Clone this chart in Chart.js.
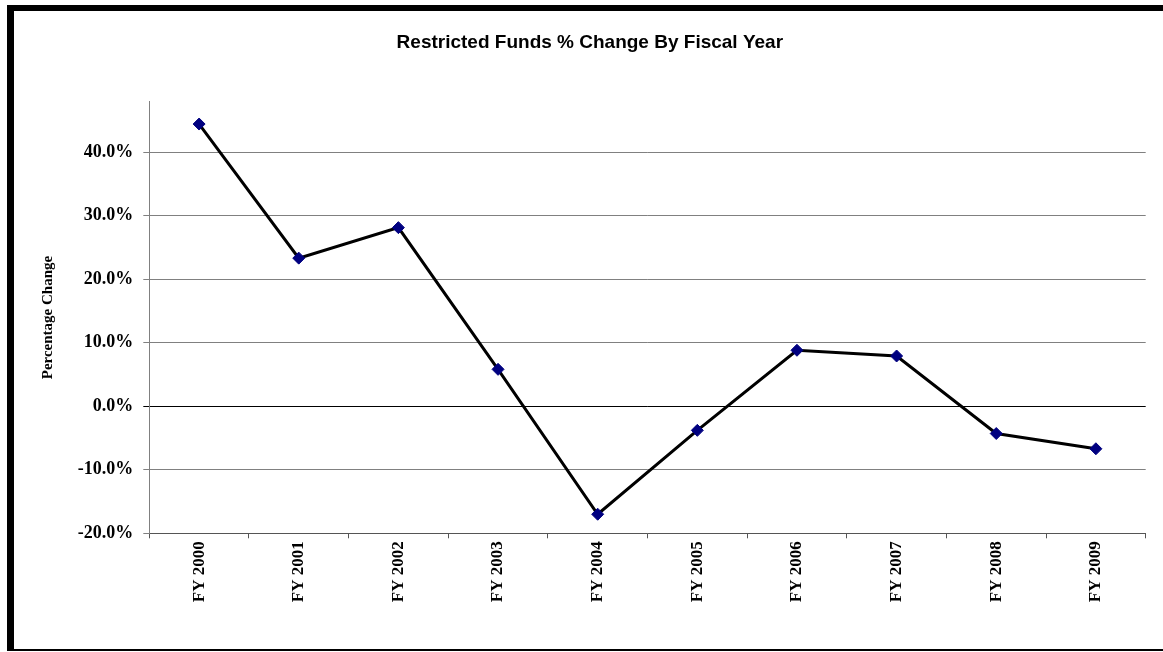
<!DOCTYPE html>
<html>
<head>
<meta charset="utf-8">
<script src="https://cdn.jsdelivr.net/npm/chart.js@4"></script>
<style>
  html, body { margin: 0; padding: 0; background: #fff; overflow: hidden; }
  #wrap { position: relative; width: 1163px; height: 652px; }
  #frame {
    position: absolute; left: 7px; top: 5px; width: 1200px; height: 646px;
    box-sizing: border-box; border-top: 6px solid #000; border-left: 7px solid #000;
    border-bottom: 2px solid #000; pointer-events: none;
  }
</style>
</head>
<body>
<div id="wrap">
  <canvas id="chart" width="1163" height="652"></canvas>
  <div id="frame"></div>
</div>
<script>
// Fiscal years and % change
const years = ['FY 2000', 'FY 2001', 'FY 2002', 'FY 2003', 'FY 2004',
               'FY 2005', 'FY 2006', 'FY 2007', 'FY 2008', 'FY 2009']
const pctChange = [44.4, 23.3, 28.1, 5.8, -17.0, -3.8, 8.8, 7.9, -4.3, -6.7]
const yTicks = [-20, -10, 0, 10, 20, 30, 40]

const serif = 'Liberation Serif, Times New Roman, serif'

new Chart(document.getElementById('chart'), {
  type: 'line',
  data: {
    labels: years,
    datasets: [{
      label: 'Restricted Funds',
      data: pctChange,
      borderColor: '#000',
      borderWidth: 3,
      tension: 0,
      pointStyle: 'rectRot',
      pointRadius: 6,
      pointBackgroundColor: '#000080',
      pointBorderColor: '#000080',
      pointBorderWidth: 1
    }]
  },
  options: {
    responsive: false,
    animation: false,
    layout: { padding: { left: 34, right: 17.3, top: 0, bottom: 0 } },
    plugins: {
      legend: { display: false },
      tooltip: { enabled: false },
      title: {
        display: true,
        text: 'Restricted Funds % Change By Fiscal Year',
        color: '#000',
        font: { family: 'Liberation Sans, Arial, sans-serif', size: 19, weight: 'bold' },
        padding: { top: 31, bottom: 48 }
      }
    },
    scales: {
      x: {
        offset: true,
        grid: { display: true, offset: true, drawOnChartArea: false, drawTicks: true, tickLength: 5, color: '#555' },
        border: { color: '#555', width: 1 },
        ticks: {
          autoSkip: false, maxRotation: 90, minRotation: 90, padding: 3,
          color: '#000', font: { family: serif, size: 17, weight: 'bold' }
        },
        afterFit: (scale) => { scale.height = 118.7 }
      },
      y: {
        min: -20,
        max: 47.9,
        afterBuildTicks: (scale) => { scale.ticks = yTicks.map(v => ({ value: v })) },
        grid: {
          color: (ctx) => (ctx.tick && ctx.tick.value === 0) ? '#000' : '#808080',
          tickLength: 6
        },
        border: { color: '#808080', width: 1 },
        ticks: {
          padding: 10,
          color: '#000',
          font: { family: serif, size: 18, weight: 'bold' },
          callback: (v) => v.toFixed(1) + '%'
        },
        title: {
          display: true,
          text: 'Percentage Change',
          color: '#000',
          font: { family: serif, size: 15, weight: 'bold' },
          padding: { top: 5, bottom: 0 }
        },
        afterFit: (scale) => { scale.width = 115.3 }
      }
    }
  }
})
</script>
</body>
</html>
